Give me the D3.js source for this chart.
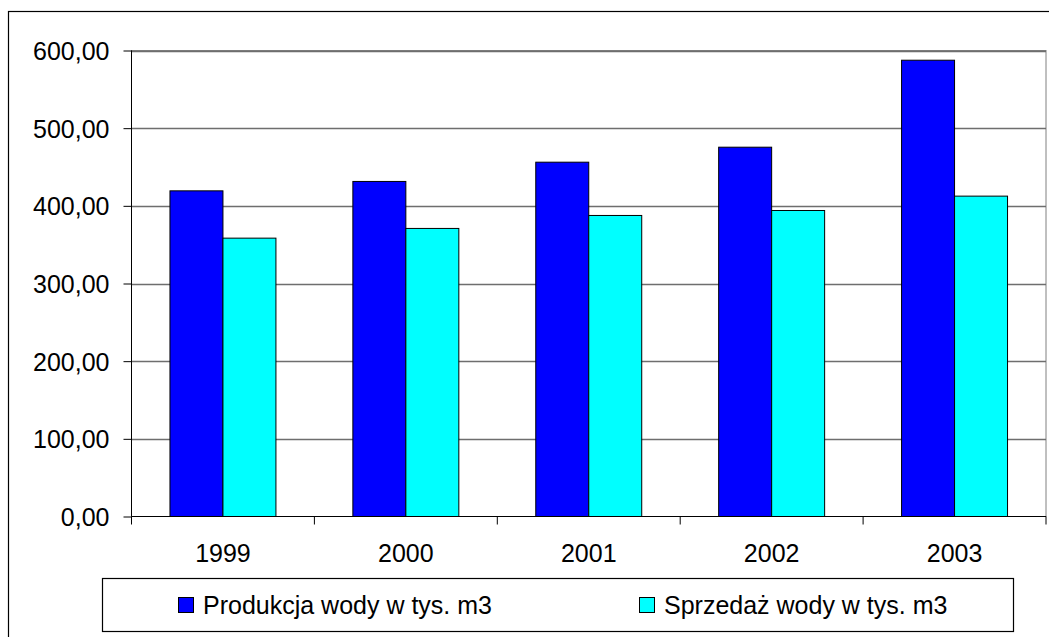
<!DOCTYPE html>
<html>
<head>
<meta charset="utf-8">
<script src="https://cdn.jsdelivr.net/npm/d3@7"></script>
<style>
  html, body { margin: 0; padding: 0; background: #fff; }
  svg { display: block; }
  text { font-family: "Liberation Sans", Arial, sans-serif; fill: #000; }
</style>
</head>
<body>
<svg id="chart" width="1049" height="637"></svg>
<script>
const categories = ["1999", "2000", "2001", "2002", "2003"];
const seriesNames = ["Produkcja wody w tys. m3", "Sprzedaż wody w tys. m3"];
const produkcja = [419.3, 431.4, 456.2, 475.5, 587.5];
const sprzedaz = [358.4, 370.9, 387.6, 394.0, 412.5];
const seriesColors = ["#0000FF", "#00FFFF"];
const yTicks = [0, 100, 200, 300, 400, 500, 600];

const seriesValues = [produkcja, sprzedaz];
const svg = d3.select("#chart");

const plot = { left: 131.5, right: 1046, top: 50.5, bottom: 516.5 };

// outer chart border (extends past viewport at right/bottom)
svg.append("rect")
  .attr("x", 8.5).attr("y", 11.5)
  .attr("width", 1100).attr("height", 700)
  .attr("fill", "none").attr("stroke", "#000").attr("stroke-width", 1.2);

const x0 = d3.scaleBand().domain(categories).range([plot.left, plot.right]).padding(0);
const x1 = d3.scaleBand().domain(d3.range(seriesNames.length))
  .range([0, x0.bandwidth()]).paddingInner(0).paddingOuter(0.726);
const y = d3.scaleLinear().domain([0, 600]).range([plot.bottom, plot.top]);

const fmt = v => d3.format(".2f")(v).replace(".", ",");

// plot area border (grey)
svg.append("rect")
  .attr("x", plot.left).attr("y", plot.top)
  .attr("width", plot.right - plot.left).attr("height", plot.bottom - plot.top)
  .attr("fill", "none").attr("stroke", "#808080").attr("stroke-width", 1);

// gridlines
svg.append("g").selectAll("line").data(yTicks.filter(t => t > 0)).join("line")
  .attr("x1", plot.left).attr("x2", plot.right)
  .attr("y1", d => Math.round(y(d)) + 0.5).attr("y2", d => Math.round(y(d)) + 0.5)
  .attr("stroke", "#6e6e6e").attr("stroke-width", 1.3);

// bars
const groups = svg.append("g").selectAll("g").data(categories).join("g")
  .attr("transform", d => `translate(${x0(d)},0)`);
groups.selectAll("rect")
  .data((c, i) => seriesValues.map((vals, s) => ({ s, v: vals[i] })))
  .join("rect")
  .attr("x", d => x1(d.s))
  .attr("width", x1.bandwidth())
  .attr("y", d => y(d.v))
  .attr("height", d => y(0) - y(d.v))
  .attr("fill", d => seriesColors[d.s])
  .attr("stroke", "#000").attr("stroke-width", 1);

// y axis
const yAxis = d3.axisLeft(y).tickValues(yTicks).tickFormat(fmt).tickSize(8).tickPadding(14);
const gy = svg.append("g").attr("transform", `translate(${plot.left},0)`).call(yAxis);
gy.select(".domain").attr("stroke", "#000").attr("d", `M0,${plot.top}V${plot.bottom}`);
gy.selectAll(".tick line").attr("stroke", "#000");
gy.selectAll("text").style("font-size", "25px").style("font-family", "Liberation Sans, Arial, sans-serif").attr("dy", "0.36em");

// x axis
const xAxis = d3.axisBottom(x0).tickSize(0).tickPadding(28);
const gx = svg.append("g").attr("transform", `translate(0,${plot.bottom})`).call(xAxis);
gx.select(".domain").attr("stroke", "#000").attr("d", `M${plot.left},0H${plot.right}`);
gx.selectAll("text").style("font-size", "25px").style("font-family", "Liberation Sans, Arial, sans-serif");
// category boundary ticks
svg.append("g").selectAll("line").data(categories.concat(["end"])).join("line")
  .attr("x1", (d, i) => plot.left + i * x0.step()).attr("x2", (d, i) => plot.left + i * x0.step())
  .attr("y1", plot.bottom).attr("y2", plot.bottom + 8)
  .attr("stroke", "#000");

// legend
const legend = svg.append("g");
legend.append("rect")
  .attr("x", 102.5).attr("y", 578.5).attr("width", 911).attr("height", 53)
  .attr("fill", "#fff").attr("stroke", "#000").attr("stroke-width", 1.2);
const legendX = [178, 639];
const li = legend.selectAll("g.item").data(seriesNames).join("g").attr("class", "item")
  .attr("transform", (d, i) => `translate(${legendX[i]},597)`);
li.append("rect").attr("x", 0.5).attr("y", 0.5).attr("width", 15).attr("height", 15)
  .attr("fill", (d, i) => seriesColors[i]).attr("stroke", "#000");
li.append("text").attr("x", 25).attr("y", 16.5)
  .style("font-size", "25px").text(d => d);
</script>
</body>
</html>
